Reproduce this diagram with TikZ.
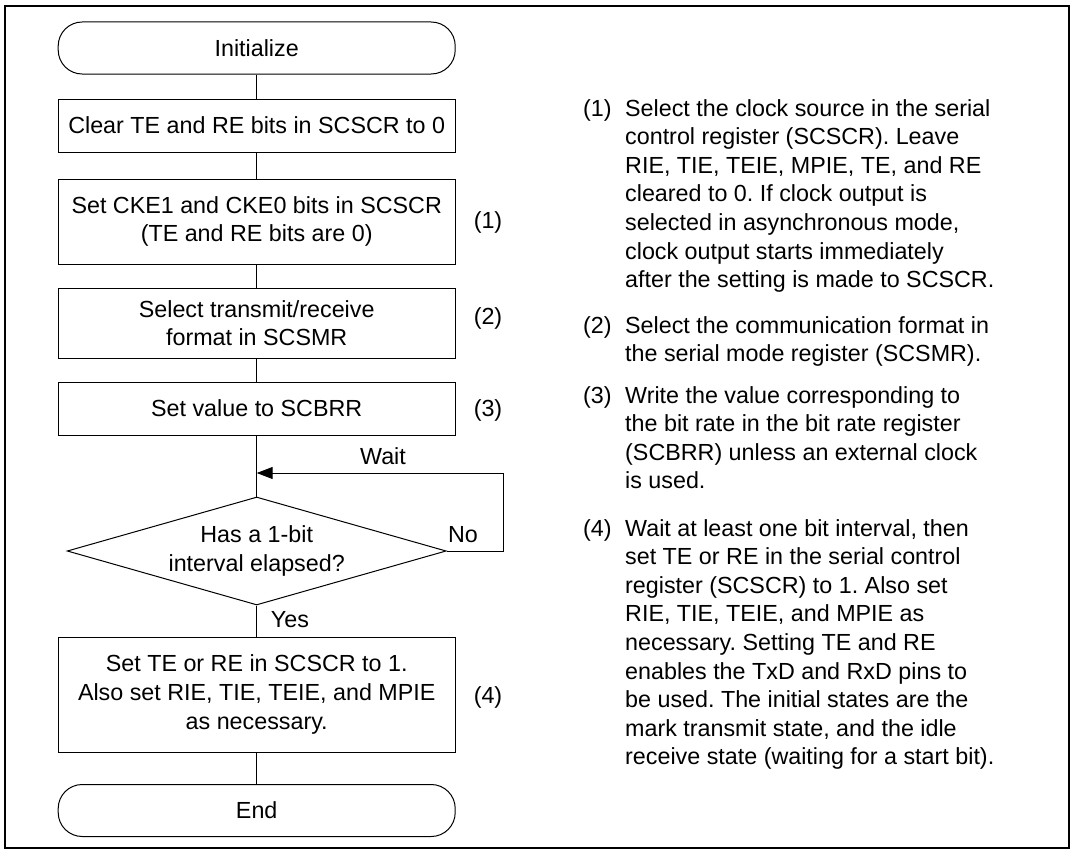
\documentclass[tikz,border=0pt]{standalone}
\usepackage{fontspec}
\setmainfont{Liberation Sans}
\usetikzlibrary{shapes.geometric,arrows.meta}
\frenchspacing
\begin{document}
\begin{tikzpicture}[x=1pt,y=-1pt,
  every node/.style={font=\fontsize{23.3}{28.6}\selectfont, inner sep=0pt},
  procbox/.style={draw, line width=1pt, minimum width=397pt, align=center},
  term/.style={draw, line width=1pt, minimum width=397pt, minimum height=52pt, rounded corners=24pt},
  dec/.style={draw, diamond, line width=1pt, minimum width=379pt, minimum height=108pt, aspect=3.5, align=center},
  conn/.style={line width=1pt},
  para/.style={anchor=base west},
]
\useasboundingbox (0,0) rectangle (1073,851);
\draw[line width=2pt] (5,6) rectangle (1069,848);

\node[term] (init) at (256.7,48) {Initialize};
\node[procbox, minimum height=53pt] (clr) at (256.7,125.5) {Clear TE and RE bits in SCSCR to 0};
\node[procbox, minimum height=85pt] (cke) at (256.7,221.5) {Set CKE1 and CKE0 bits in SCSCR\\(TE and RE bits are 0)};
\node[procbox, minimum height=70pt] (fmt) at (256.7,323) {Select transmit/receive\\format in SCSMR};
\node[procbox, minimum height=53pt] (brr) at (256.7,408.5) {Set value to SCBRR};
\node[dec] (dia) at (256.7,551) {Has a 1-bit\\interval elapsed?};
\node[procbox, minimum height=115pt] (set) at (256.7,694.5) {Set TE or RE in SCSCR to 1.\\Also set RIE, TIE, TEIE, and MPIE\\as necessary.};
\node[term] (end) at (256.7,810.5) {End};

\coordinate (waitpt) at (256.7,473);
\coordinate (loopc) at (503,551);

\draw[conn] (init) -- (clr);
\draw[conn] (clr) -- (cke);
\draw[conn] (cke) -- (fmt);
\draw[conn] (fmt) -- (brr);
\draw[conn] (brr) -- (dia.north);
\draw[conn] (dia.south) -- (set);
\draw[conn] (set) -- (end);
\draw[conn, -{Triangle[length=16pt,width=12pt]}] (dia.east) -- (loopc) |- (waitpt);

\node (wait) at (383,456) {Wait};
\node (no) at (463,535) {No};
\node (yes) at (290,620) {Yes};

\node (l1) at (488,222) {(1)};
\node (l2) at (488,318) {(2)};
\node (l3) at (488,410) {(3)};
\node (l4) at (488,697) {(4)};

\node[para] (n1) at (583,116) {(1)};
\node[para] (t1) at (625,116) {\parbox[t]{440pt}{\raggedright Select the clock source in the serial\\control register (SCSCR). Leave\\RIE, TIE, TEIE, MPIE, TE, and RE\\cleared to 0. If clock output is\\selected in asynchronous mode,\\clock output starts immediately\\after the setting is made to SCSCR.}};
\node[para] (n2) at (583,333) {(2)};
\node[para] (t2) at (625,333) {\parbox[t]{440pt}{\raggedright Select the communication format in\\the serial mode register (SCSMR).}};
\node[para] (n3) at (583,403) {(3)};
\node[para] (t3) at (625,403) {\parbox[t]{440pt}{\raggedright Write the value corresponding to\\the bit rate in the bit rate register\\(SCBRR) unless an external clock\\is used.}};
\node[para] (n4) at (583,536) {(4)};
\node[para] (t4) at (625,536) {\parbox[t]{440pt}{\raggedright Wait at least one bit interval, then\\set TE or RE in the serial control\\register (SCSCR) to 1. Also set\\RIE, TIE, TEIE, and MPIE as\\necessary. Setting TE and RE\\enables the TxD and RxD pins to\\be used. The initial states are the\\mark transmit state, and the idle\\receive state (waiting for a start bit).}};
\end{tikzpicture}
\end{document}
